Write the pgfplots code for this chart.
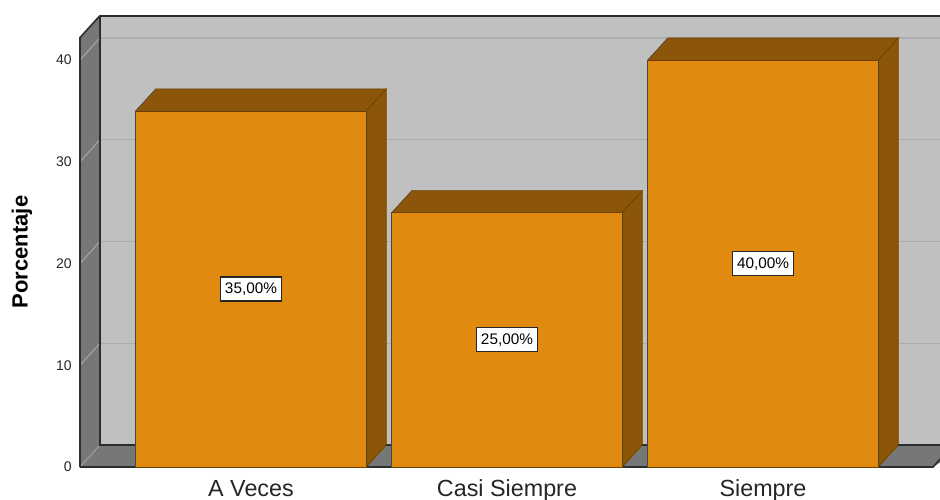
\documentclass[border=0pt]{standalone}
\usepackage{pgfplots}
\usepackage{pgfplotstable}
\pgfplotsset{compat=1.18}
\usepackage{fontspec}
\setmainfont{Liberation Sans}
\definecolor{barfront}{RGB}{224,138,16}
\definecolor{bardark}{RGB}{139,85,10}
\definecolor{baredge}{RGB}{105,64,8}
\definecolor{wallback}{RGB}{192,192,192}
\definecolor{wallside}{RGB}{119,119,119}
\definecolor{gridback}{RGB}{172,172,172}
\definecolor{gridside}{RGB}{165,165,165}
\definecolor{edge}{RGB}{45,45,45}
\pgfplotstableread{
x y
0 35
1 25
2 40
}\datatable
\begin{document}
\begin{tikzpicture}
\begin{axis}[
  at={(0,0)}, anchor=south west,
  scale only axis, width=645pt, height=338.25pt,
  xmin=-0.66797, xmax=2.69141, ymin=0, ymax=44.32,
  clip=false,
  axis line style={draw=none},
  major tick length=0pt,
  ytick={0,10,20,30,40},
  xtick={0,1,2},
  xticklabels={A Veces, Casi Siempre, Siempre},
  /pgf/number format/assume math mode=true,
  yticklabel style={font=\fontsize{10.5}{12}\selectfont, anchor=east, inner sep=0pt, xshift=-6pt, text=black!85},
  xticklabel style={font=\fontsize{17.5}{20}\selectfont, anchor=base, inner sep=0pt, yshift=-22.5pt, text=black!85},
]
% back wall
\addplot[fill=wallback, draw=none] coordinates {(-0.58984,2.16) (2.80,2.16) (2.80,44.36) (-0.58984,44.36)} -- cycle;
% grid lines on back wall
\addplot[gridback, line width=1pt] coordinates {(-0.58984,12.16) (2.80,12.16)};
\addplot[gridback, line width=1pt] coordinates {(-0.58984,22.16) (2.80,22.16)};
\addplot[gridback, line width=1pt] coordinates {(-0.58984,32.16) (2.80,32.16)};
\addplot[gridback, line width=1pt] coordinates {(-0.58984,42.16) (2.80,42.16)};
% top edge of back wall
\addplot[edge, line width=1.5pt] coordinates {(-0.58984,44.36) (2.80,44.36)};
% left wall
\addplot[fill=wallside, draw=none] coordinates {(-0.66797,0) (-0.58984,2.16) (-0.58984,44.36) (-0.66797,42.2)} -- cycle;
\addplot[gridside, line width=0.8pt] coordinates {(-0.66797,10) (-0.58984,12.16)};
\addplot[gridside, line width=0.8pt] coordinates {(-0.66797,20) (-0.58984,22.16)};
\addplot[gridside, line width=0.8pt] coordinates {(-0.66797,30) (-0.58984,32.16)};
\addplot[gridside, line width=0.8pt] coordinates {(-0.66797,40) (-0.58984,42.16)};
% floor
\addplot[fill=wallside, draw=none] coordinates {(-0.66797,0) (-0.58984,2.16) (2.80,2.16) (2.66406,0)} -- cycle;
\addplot[gridside, line width=0.6pt] coordinates {(-0.66797,0) (-0.58984,2.16)};
% wall edges
\addplot[edge, line width=1.2pt] coordinates {(-0.66797,0) (-0.66797,42.2) (-0.58984,44.36)};
\addplot[edge, line width=1.2pt] coordinates {(-0.58984,44.36) (-0.58984,2.16) (2.80,2.16)};
\addplot[edge, line width=1.2pt] coordinates {(-0.66797,0) (2.66406,0) (2.74219,2.16)};
% bars: side and top faces
\addplot[fill=bardark, draw=baredge, line width=0.5pt] coordinates {(0.45,0) (0.45,35) (0.52813,37.16) (0.52813,2.16)} -- cycle;
\addplot[fill=bardark, draw=baredge, line width=0.5pt] coordinates {(-0.45,35) (-0.37187,37.16) (0.52813,37.16) (0.45,35)} -- cycle;
\addplot[fill=bardark, draw=baredge, line width=0.5pt] coordinates {(1.45,0) (1.45,25) (1.52813,27.16) (1.52813,2.16)} -- cycle;
\addplot[fill=bardark, draw=baredge, line width=0.5pt] coordinates {(0.55,25) (0.62813,27.16) (1.52813,27.16) (1.45,25)} -- cycle;
\addplot[fill=bardark, draw=baredge, line width=0.5pt] coordinates {(2.45,0) (2.45,40) (2.52813,42.16) (2.52813,2.16)} -- cycle;
\addplot[fill=bardark, draw=baredge, line width=0.5pt] coordinates {(1.55,40) (1.62813,42.16) (2.52813,42.16) (2.45,40)} -- cycle;
% bars: front faces
\addplot[ybar, bar width=0.9, fill=barfront, draw=baredge, line width=0.5pt] table[x=x, y=y] {\datatable};
% value labels
\addplot[only marks, mark=none, point meta=\thisrow{y},
  nodes near coords={\pgfmathprintnumber[fixed, fixed zerofill, precision=2, use comma]{\pgfplotspointmeta}\%},
  nodes near coords style={anchor=center, fill=white, draw=black!85, line width=1pt,
    font=\fontsize{11.5}{13}\selectfont, inner xsep=3.5pt, inner ysep=4pt, text height=8.5pt, text depth=1.5pt,
    /pgf/number format/assume math mode=true}]
  table[x=x, y expr=\thisrow{y}/2] {\datatable};
\end{axis}
\node[rotate=90, font=\bfseries\fontsize{16.5}{18}\selectfont] at (-43.5pt,161.25pt) {Porcentaje};
\pgfresetboundingbox
\path[use as bounding box] (-60pt,-24.75pt) rectangle (645pt,350.25pt);
\end{tikzpicture}
\end{document}
